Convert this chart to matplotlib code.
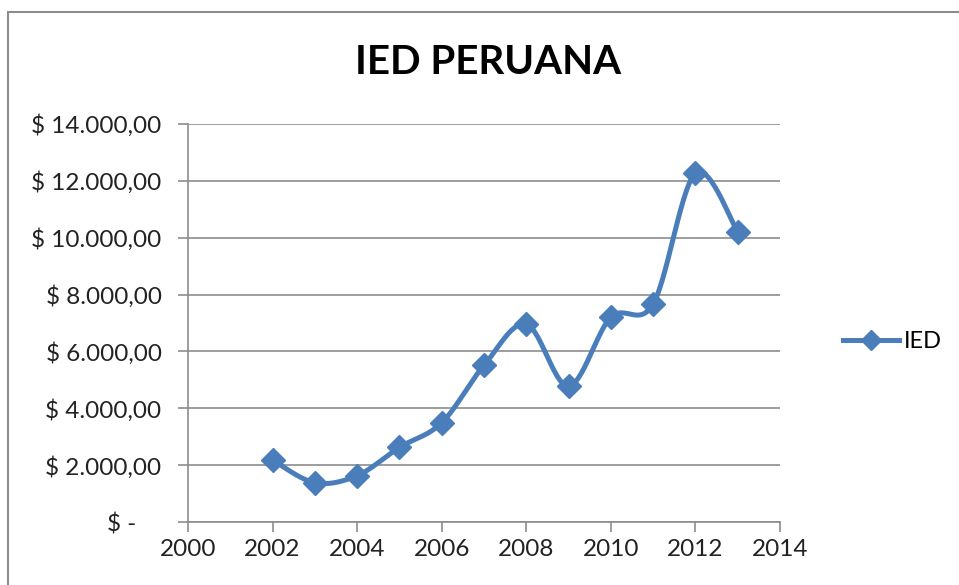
import numpy as np
import matplotlib
matplotlib.use("Agg")
import matplotlib.pyplot as plt
from matplotlib.patches import Rectangle
from matplotlib.ticker import FuncFormatter

## data
years = [2002, 2003, 2004, 2005, 2006, 2007, 2008, 2009, 2010, 2011, 2012, 2013]
ied = [2180, 1380, 1630, 2625, 3490, 5510, 6960, 4780, 7200, 7670, 12265, 10210]

blue = '#4A7EBB'
plt.rcParams['font.family'] = ['Lato', 'DejaVu Sans']


def smooth(xs, ys, sx, sy, n=30):
    # Excel-like smoothed line: Catmull-Rom through the points, in screen-ish units
    px = np.asarray(xs, float) * sx
    py = np.asarray(ys, float) * sy
    P = np.column_stack([px, py])
    P = np.vstack([P[0], P, P[-1]])
    out = []
    for i in range(1, len(P) - 2):
        p0, p1, p2, p3 = P[i - 1], P[i], P[i + 1], P[i + 2]
        c1 = p1 + (p2 - p0) / 6.0
        c2 = p2 - (p3 - p1) / 6.0
        t = np.linspace(0, 1, n)[:, None]
        seg = ((1 - t) ** 3) * p1 + 3 * ((1 - t) ** 2) * t * c1 + 3 * (1 - t) * t ** 2 * c2 + t ** 3 * p2
        out.append(seg if i == 1 else seg[1:])
    out = np.vstack(out)
    return out[:, 0] / sx, out[:, 1] / sy


## plot
fig = plt.figure(figsize=(9.59, 5.85), dpi=100)
ax = fig.add_axes([188 / 959, 1 - 522 / 585, (780 - 188) / 959, (522 - 124) / 585])

# chart border
fig.patches.append(Rectangle((8 / 959, -0.1), 1.2, 1 - 12 / 585 + 0.1, transform=fig.transFigure,
                             fill=False, edgecolor='#8c8c8c', linewidth=1.5))

sx, sy = 592 / 14, 398 / 14000
lx, ly = smooth(years, ied, sx, sy)
ax.plot(lx, ly, color=blue, linewidth=3.6, solid_capstyle='round', zorder=3)
ax.plot(years, ied, linestyle='none', marker='D', markersize=12.5, color=blue, zorder=4)

# legend proxy
ax.plot([], [], color=blue, linewidth=3.6, marker='D', markersize=10, label='IED')

ax.set_xlim(2000, 2014)
ax.set_ylim(0, 14000)
ax.set_xticks(range(2000, 2015, 2))
ax.set_yticks(range(0, 14001, 2000))


def money(v, pos):
    if v == 0:
        return '$ -    '
    return '$ ' + f'{v:,.2f}'.replace(',', 'X').replace('.', ',').replace('X', '.')


ax.yaxis.set_major_formatter(FuncFormatter(money))
ax.grid(axis='y', color='#8c8c8c', linewidth=1.2)
ax.set_axisbelow(True)
for s in ['top', 'right']:
    ax.spines[s].set_visible(False)
for s in ['left', 'bottom']:
    ax.spines[s].set_color('#8c8c8c')
    ax.spines[s].set_linewidth(1.2)
ax.tick_params(axis='both', colors='#8c8c8c', length=7, width=1.2, labelsize=17.5, labelcolor='#222222')
ax.tick_params(axis='x', pad=5)
ax.tick_params(axis='y', pad=12)

fig.text(488 / 959, 1 - 62 / 585, 'IED PERUANA', ha='center', va='center',
         fontsize=29, fontweight='bold', color='black')

ax.legend(loc='center left', bbox_to_anchor=(831 / 959, 1 - 342 / 585), bbox_transform=fig.transFigure,
          frameon=False, fontsize=17, handlelength=2.4, handletextpad=0.2, borderpad=0)

plt.savefig('out.png', dpi=100)
plt.close(fig)
